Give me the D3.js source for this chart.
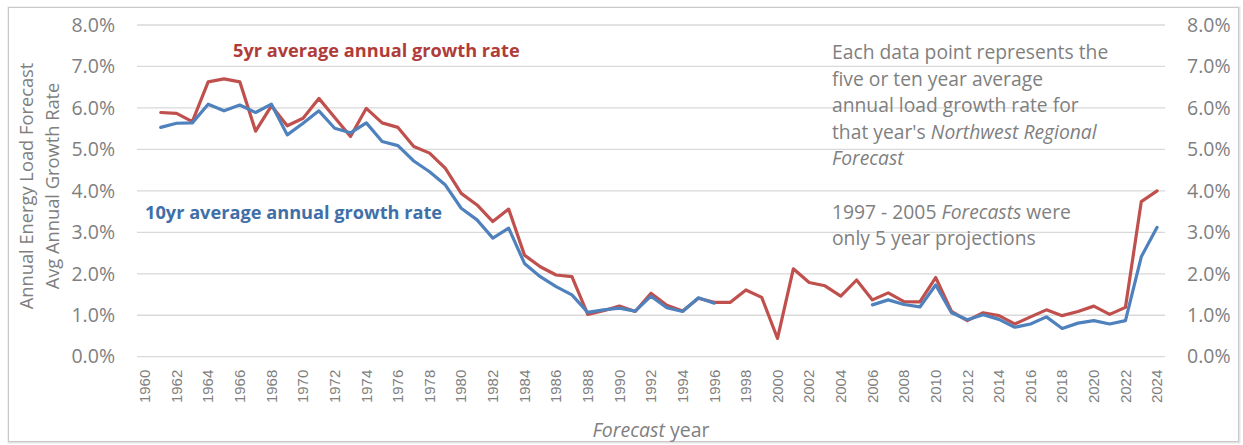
<!DOCTYPE html>
<html>
<head>
<meta charset="utf-8">
<script src="https://cdn.jsdelivr.net/npm/d3@7"></script>
<style>
  html, body { margin: 0; padding: 0; background: #fff; }
  svg { display: block; }
  text { font-family: "Open Sans", "DejaVu Sans", sans-serif; }
</style>
</head>
<body>
<svg id="chart" width="1243" height="445"></svg>
<script>
const years = d3.range(1960, 2025);
const yearLabels = years.filter(y => y % 2 === 0);
const yTicks = [0, 1, 2, 3, 4, 5, 6, 7, 8];

// 5-year average annual growth rate (%), 1960..2024
const fiveYr = [
  null, 5.89, 5.87, 5.67, 6.63, 6.70, 6.63, 5.44, 6.05, 5.57,
  5.75, 6.23, 5.77, 5.31, 5.99, 5.64, 5.53, 5.07, 4.91, 4.54,
  3.94, 3.66, 3.26, 3.56, 2.45, 2.17, 1.97, 1.93, 1.02, 1.11,
  1.22, 1.09, 1.53, 1.24, 1.10, 1.41, 1.31, 1.31, 1.61, 1.43,
  0.44, 2.12, 1.79, 1.71, 1.46, 1.85, 1.37, 1.54, 1.33, 1.32,
  1.91, 1.09, 0.87, 1.06, 0.99, 0.79, 0.96, 1.13, 0.99, 1.09,
  1.22, 1.02, 1.19, 3.74, 4.00
];
// 10-year average annual growth rate (%), 1960..2024
const tenYr = [
  null, 5.53, 5.63, 5.64, 6.09, 5.93, 6.07, 5.89, 6.09, 5.35,
  5.63, 5.93, 5.51, 5.40, 5.64, 5.19, 5.09, 4.72, 4.46, 4.14,
  3.58, 3.30, 2.86, 3.10, 2.25, 1.93, 1.69, 1.49, 1.07, 1.13,
  1.17, 1.10, 1.46, 1.18, 1.09, 1.42, 1.29, null, null, null,
  null, null, null, null, null, null, 1.25, 1.37, 1.26, 1.20,
  1.73, 1.06, 0.89, 1.01, 0.90, 0.71, 0.79, 0.96, 0.68, 0.81,
  0.87, 0.79, 0.87, 2.41, 3.12
];

const noteLines = [
  [{t: "Each data point represents the"}],
  [{t: "five or ten year average"}],
  [{t: "annual load growth rate for"}],
  [{t: "that year's "}, {t: "Northwest Regional", i: true}],
  [{t: "Forecast", i: true}],
  [],
  [{t: "1997 - 2005 "}, {t: "Forecasts", i: true}, {t: " were"}],
  [{t: "only 5 year projections"}]
];

const svg = d3.select("#chart");
const plot = {left: 137, right: 1165, top: 25, bottom: 356.7};
const gray = "#7f7f7f";
const red = "#c0504d";
const blue = "#4f81bd";

// frame
svg.append("rect").attr("x", 9).attr("y", 8).attr("width", 1230).attr("height", 434)
  .attr("fill", "none").attr("stroke", "#e4e4e4").attr("stroke-width", 3);
svg.append("rect").attr("x", 8.5).attr("y", 7.5).attr("width", 1230).attr("height", 434)
  .attr("fill", "#fff").attr("stroke", "#c9c9c9").attr("stroke-width", 1);

const x = d3.scaleBand().domain(years).range([plot.left, plot.right]).paddingInner(0).paddingOuter(0);
const xc = yr => x(yr) + x.bandwidth() / 2;
const y = d3.scaleLinear().domain([0, 8]).range([plot.bottom, plot.top]);

// gridlines
svg.append("g").selectAll("line").data(yTicks).join("line")
  .attr("x1", plot.left).attr("x2", plot.right)
  .attr("y1", d => y(d)).attr("y2", d => y(d))
  .attr("stroke", "#d9d9d9").attr("stroke-width", 1.3);

// left axis
const fmt = d => d.toFixed(1) + "%";
const leftAxis = svg.append("g").attr("transform", `translate(${plot.left},0)`)
  .call(d3.axisLeft(y).tickValues(yTicks).tickFormat(fmt).tickSize(0).tickPadding(22));
leftAxis.select(".domain").remove();
leftAxis.selectAll("text").attr("fill", gray).style("font-size", "19.5px")
  .style("font-family", "'Open Sans', sans-serif");

// right axis
const rightAxis = svg.append("g").attr("transform", `translate(${plot.right},0)`)
  .call(d3.axisRight(y).tickValues(yTicks).tickFormat(fmt).tickSize(0).tickPadding(22));
rightAxis.select(".domain").remove();
rightAxis.selectAll("text").attr("fill", gray).style("font-size", "19.5px")
  .style("font-family", "'Open Sans', sans-serif");

// bottom axis
const bottomAxis = svg.append("g").attr("transform", `translate(0,${plot.bottom})`)
  .call(d3.axisBottom(x).tickValues(yearLabels).tickSize(0).tickPadding(0));
bottomAxis.select(".domain").remove();
bottomAxis.selectAll("text")
  .attr("fill", gray).style("font-size", "15px")
  .style("font-family", "'Liberation Sans', Arial, sans-serif")
  .attr("transform", "rotate(-90)")
  .attr("x", -13).attr("y", 0).attr("dy", "0.35em")
  .attr("text-anchor", "end");

// lines
const line = d3.line()
  .defined(d => d.v != null)
  .x(d => xc(d.yr)).y(d => y(d.v));

const redData = years.map((yr, i) => ({yr, v: fiveYr[i]}));
const blueData = years.map((yr, i) => ({yr, v: tenYr[i]}));

svg.append("path").datum(redData).attr("d", line)
  .attr("fill", "none").attr("stroke", red).attr("stroke-width", 3.2)
  .attr("stroke-linejoin", "round").attr("stroke-linecap", "round");
svg.append("path").datum(blueData).attr("d", line)
  .attr("fill", "none").attr("stroke", blue).attr("stroke-width", 3.2)
  .attr("stroke-linejoin", "round").attr("stroke-linecap", "round");

// series labels
svg.append("text").attr("x", 233).attr("y", 57)
  .attr("fill", "#b03c3a").style("font-size", "18.2px").style("font-weight", "bold")
  .text("5yr average annual growth rate");
svg.append("text").attr("x", 145).attr("y", 219)
  .attr("fill", "#3f6fa8").style("font-size", "18.2px").style("font-weight", "bold")
  .text("10yr average annual growth rate");

// note
const note = svg.append("text").attr("fill", gray).style("font-size", "19.3px");
noteLines.forEach((ln, i) => {
  if (!ln.length) return;
  const first = note.append("tspan").attr("x", 832).attr("y", 59 + i * 26.6);
  first.text(ln[0].t).style("font-style", ln[0].i ? "italic" : "normal");
  ln.slice(1).forEach(seg => {
    note.append("tspan").text(seg.t).style("font-style", seg.i ? "italic" : "normal");
  });
});

// x axis title
const xt = svg.append("text").attr("x", (plot.left + plot.right) / 2).attr("y", 437)
  .attr("text-anchor", "middle").attr("fill", gray).style("font-size", "19.5px");
xt.append("tspan").style("font-style", "italic").text("Forecast");
xt.append("tspan").text(" year");

// y axis title
const yt = svg.append("text").attr("transform", "translate(27,186) rotate(-90)")
  .attr("text-anchor", "middle").attr("fill", gray).style("font-size", "18.3px");
yt.append("tspan").attr("x", 0).attr("dy", "0.35em").text("Annual Energy Load Forecast");
yt.append("tspan").attr("x", 0).attr("dy", "26").text("Avg Annual Growth Rate");
</script>
</body>
</html>
